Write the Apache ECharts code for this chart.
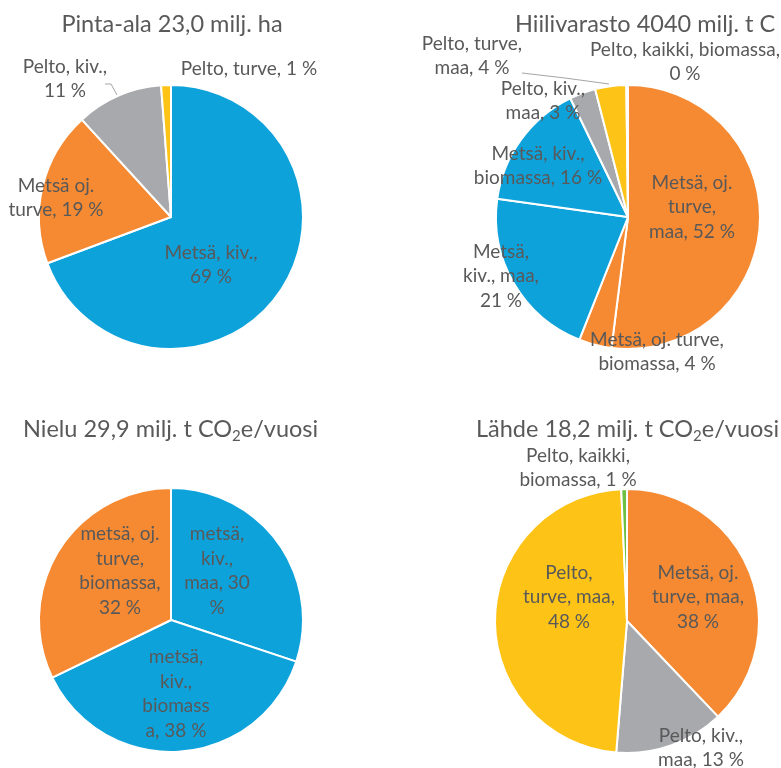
<!DOCTYPE html>
<html>
<head>
<meta charset="UTF-8">
<script src="https://cdn.jsdelivr.net/npm/echarts@6/dist/echarts.min.js"></script>
<style>
  html, body { margin: 0; padding: 0; background: #fff; }
  #chart { width: 781px; height: 768px; }
</style>
</head>
<body>
<div id="chart"></div>
<script>
// Pinta-ala 23,0 milj. ha
const areaNames = ['Metsä, kiv.', 'Metsä oj. turve', 'Pelto, kiv.', 'Pelto, turve']
const areaValues = [69.3, 18.9, 10.6, 1.2]
const areaLabels = ['Metsä, kiv.,\n{p} %', 'Metsä oj.\nturve, {p} %', 'Pelto, kiv.,\n{p} %', 'Pelto, turve, {p} %']

// Hiilivarasto 4040 milj. t C
const carbonNames = ['Metsä, oj. turve, maa', 'Metsä, oj. turve, biomassa', 'Metsä, kiv., maa',
  'Metsä, kiv., biomassa', 'Pelto, kiv., maa', 'Pelto, turve, maa', 'Pelto, kaikki, biomassa']
const carbonValues = [52.0, 4.0, 21.2, 15.6, 3.2, 3.8, 0.2]
const carbonLabels = ['Metsä, oj.\nturve,\nmaa, {p} %', 'Metsä, oj. turve,\nbiomassa, {p} %', 'Metsä,\nkiv., maa,\n{p} %',
  'Metsä, kiv.,\nbiomassa, {p} %', 'Pelto, kiv.,\nmaa, {p} %', 'Pelto, turve,\nmaa, {p} %', 'Pelto, kaikki, biomassa,\n{p} %']

// Nielu 29,9 milj. t CO2e/vuosi
const sinkNames = ['metsä, kiv., maa', 'metsä, kiv., biomassa', 'metsä, oj. turve, biomassa']
const sinkValues = [30.1, 37.7, 32.2]
const sinkLabels = ['metsä,\nkiv.,\nmaa, {p}\n%', 'metsä,\nkiv.,\nbiomass\na, {p} %', 'metsä, oj.\nturve,\nbiomassa,\n{p} %']

// Lähde 18,2 milj. t CO2e/vuosi
const sourceNames = ['Metsä, oj. turve, maa', 'Pelto, kiv., maa', 'Pelto, turve, maa', 'Pelto, kaikki, biomassa']
const sourceValues = [37.9, 13.4, 48.0, 0.7]
const sourceLabels = ['Metsä, oj.\nturve, maa,\n{p} %', 'Pelto, kiv.,\nmaa, {p} %', 'Pelto,\nturve, maa,\n{p} %', 'Pelto, kaikki,\nbiomassa, {p} %']

const BLUE = '#0ea2db', ORANGE = '#f58a33', GREY = '#a7a9ac', YELLOW = '#fdc417', GREEN = '#6fbf45'
const TEXT = '#595959'
const FONT = 'Lato, "Open Sans", sans-serif'

const charts = [
  { names: areaNames, values: areaValues, labels: areaLabels, colors: [BLUE, ORANGE, GREY, YELLOW],
    center: [171, 217],
    labelPos: [[211, 265], [56, 198], [65, 79], [249, 69]],
    lines: { 2: [[105, 84], [111, 84], [117, 95]] } },
  { names: carbonNames, values: carbonValues, labels: carbonLabels,
    colors: [ORANGE, ORANGE, BLUE, BLUE, GREY, YELLOW, GREEN],
    center: [628, 217],
    labelPos: [[692, 207], [657, 352], [501, 276], [538, 166], [543, 101], [472, 56], [685, 62]],
    lines: { 5: [[522, 73], [565, 78], [609, 84]] } },
  { names: sinkNames, values: sinkValues, labels: sinkLabels, colors: [BLUE, BLUE, ORANGE],
    center: [171, 620],
    labelPos: [[217, 571], [176, 694], [120, 571]],
    lines: {} },
  { names: sourceNames, values: sourceValues, labels: sourceLabels, colors: [ORANGE, GREY, YELLOW, GREEN],
    center: [627, 621],
    labelPos: [[698, 597], [701, 748], [569, 597], [578, 468]],
    lines: {} }
]

const titleStyle = {
  color: TEXT, fontFamily: FONT, fontSize: 23.5, fontWeight: 'normal',
  rich: { sub: { fontSize: 15, color: TEXT, fontFamily: FONT, padding: [14, 0, 0, 0] } }
}

const option = {
  animation: false,
  backgroundColor: '#fff',
  title: [
    { text: 'Pinta-ala 23,0 milj. ha', left: 172, top: 12, padding: 0, textAlign: 'center', textStyle: titleStyle },
    { text: 'Hiilivarasto 4040 milj. t C', left: 515, top: 12, padding: 0, textStyle: titleStyle },
    { text: 'Nielu 29,9 milj. t CO{sub|2}e/vuosi', left: 23, top: 415, padding: 0, textStyle: titleStyle },
    { text: 'Lähde 18,2 milj. t CO{sub|2}e/vuosi', left: 476, top: 415, padding: 0, textStyle: titleStyle }
  ],
  series: charts.map(c => ({
    type: 'pie',
    center: c.center,
    radius: 132,
    startAngle: 90,
    clockwise: true,
    avoidLabelOverlap: false,
    emphasis: { disabled: true },
    itemStyle: { borderColor: '#fff', borderWidth: 2 },
    label: {
      position: 'outside',
      color: TEXT,
      fontFamily: FONT,
      fontSize: 19,
      lineHeight: 24.5,
      align: 'center',
      formatter: p => c.labels[p.dataIndex].replace('{p}', Math.round(p.percent))
    },
    labelLine: { show: false, lineStyle: { color: '#a6a6a6', width: 1 } },
    labelLayout: p => {
      const pos = c.labelPos[p.dataIndex]
      const out = { x: pos[0], y: pos[1], align: 'center', verticalAlign: 'middle' }
      if (c.lines[p.dataIndex]) out.labelLinePoints = c.lines[p.dataIndex]
      return out
    },
    data: c.values.map((v, i) => ({
      name: c.names[i],
      value: v,
      itemStyle: { color: c.colors[i] },
      labelLine: { show: !!c.lines[i] }
    }))
  }))
}

const chart = echarts.init(document.getElementById('chart'))
chart.setOption(option)
</script>
</body>
</html>
